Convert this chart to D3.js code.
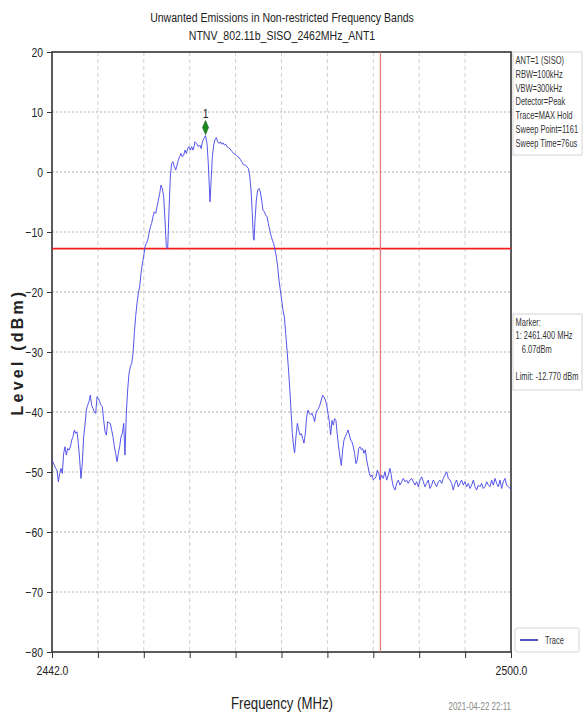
<!DOCTYPE html>
<html>
<head>
<meta charset="utf-8">
<script src="https://cdn.jsdelivr.net/npm/d3@7"></script>
<style>
  body { margin: 0; background: #fff; }
  svg { display: block; }
  text { font-family: "Liberation Sans", Arial, sans-serif; }
</style>
</head>
<body>
<div id="chart"></div>
<script>
// ---------------- data ----------------
var titleLines = ["Unwanted Emissions in Non-restricted Frequency Bands", "NTNV_802.11b_SISO_2462MHz_ANT1"];
var yTicks = [20, 10, 0, -10, -20, -30, -40, -50, -60, -70, -80];
var xTicks = [2442.0, 2447.8, 2453.6, 2459.4, 2465.2, 2471.0, 2476.8, 2482.6, 2488.4, 2494.2, 2500.0];
var xTickLabels = ["2442.0", "2500.0"];
var limitDbm = -12.77;
var bandEdgeMHz = 2483.5;
var markerMHz = 2461.4, markerDbm = 6.07;

var infoLines = ["ANT=1 (SISO)", "RBW=100kHz", "VBW=300kHz", "Detector=Peak", "Trace=MAX Hold", "Sweep Point=1161", "Sweep Time=76us"];
var markerLines = ["Marker:", "1: 2461.400 MHz", "   6.07dBm", "", "Limit: -12.770 dBm"];
var timeStamp = "2021-04-22 22:11";

// trace [MHz, dBm]
var leftSkirt = [
  [2442.00,-48.0],[2442.29,-48.85],[2442.46,-49.41],[2442.63,-49.68],[2442.80,-51.63],[2442.97,-50.24],
  [2443.14,-49.41],[2443.31,-50.24],[2443.47,-46.91],[2443.64,-45.79],[2443.81,-47.18],[2443.98,-46.07],
  [2444.15,-46.35],[2444.32,-45.79],[2444.49,-44.68],[2444.65,-44.13],[2444.82,-43.02],[2444.99,-43.57],
  [2445.16,-43.29],[2445.33,-45.24],[2445.50,-48.02],[2445.66,-51.07],[2445.83,-48.57],[2446.00,-44.13],
  [2446.17,-42.19],[2446.34,-39.68],[2446.51,-38.85],[2446.68,-38.29],[2446.84,-37.18],[2447.01,-38.85],
  [2447.18,-39.41],[2447.35,-39.96],[2447.52,-40.24],[2447.69,-37.46],[2447.86,-37.74],[2448.02,-38.29],
  [2448.19,-38.85],[2448.36,-39.13],[2448.53,-41.35],[2448.70,-43.29],[2448.87,-43.85],[2449.03,-41.63],
  [2449.20,-41.79],[2449.37,-41.90],[2449.54,-43.02],[2449.71,-44.13],[2449.88,-45.79],[2450.05,-46.91],
  [2450.21,-48.29],[2450.38,-46.91],[2450.55,-45.79],[2450.72,-44.13],[2450.89,-43.57],[2451.06,-41.90],
  [2451.22,-47.18],[2451.39,-40.24],[2451.56,-36.35],[2451.73,-33.57],[2451.90,-32.46],[2452.07,-31.91],
  [2452.24,-30.24],[2452.40,-26.91],[2452.57,-24.13],[2452.74,-21.91],[2452.91,-20.24],[2453.08,-19.13],
  [2453.25,-16.91],[2453.42,-15.24],[2453.58,-14.13],[2453.75,-12.46],[2453.92,-11.91],[2454.09,-11.35],
  [2454.26,-10.24],[2454.43,-9.13],[2454.59,-8.57],[2454.76,-7.46],[2454.93,-6.63],[2455.10,-6.91],
  [2455.27,-5.79],[2455.44,-4.68],[2455.61,-3.57],[2455.77,-2.18],[2455.94,-2.74],[2456.11,-4.13],
  [2456.28,-8.02],[2456.45,-12.46],[2456.62,-12.74],[2456.79,-6.35]
];
var mainLobe = [
  [2456.95,-0.80],[2457.12,1.43],[2457.29,1.71],[2457.46,0.87],[2457.63,0.32],[2457.80,1.15],
  [2457.96,1.98],[2458.13,2.54],[2458.30,3.09],[2458.47,2.54],[2458.64,2.82],[2458.81,3.65],
  [2458.98,3.09],[2459.14,3.93],[2459.31,4.21],[2459.48,3.65],[2459.65,4.21],[2459.82,3.65],
  [2459.99,4.48],[2460.07,5.04],[2460.28,4.76],[2460.49,4.21],[2460.70,4.48],[2460.85,3.90],
  [2461.00,5.00],[2461.20,5.60],[2461.40,6.07],[2461.59,4.76],[2461.75,1.43],[2461.88,-2.43],
  [2461.97,-4.98],[2462.09,-1.87],[2462.26,2.54],[2462.43,4.48],[2462.60,5.43],[2462.77,5.76],
  [2462.93,5.04],[2463.10,4.76],[2463.27,5.04],[2463.44,4.65],[2463.61,4.87],[2463.78,4.48],
  [2463.95,4.65],[2464.11,4.21],[2464.28,4.04],[2464.45,3.93],[2464.62,3.65],[2464.79,3.37],
  [2464.96,3.09],[2465.12,2.98],[2465.29,2.82],[2465.46,2.54],[2465.63,2.43],[2465.80,2.09],
  [2465.97,1.71],[2466.14,1.32],[2466.30,1.15],[2466.47,1.15],[2466.64,0.87],[2466.81,0.59],
  [2466.98,-0.52]
];
var rightSkirt = [
  [2467.15,-3.02],[2467.31,-6.91],[2467.44,-10.82],[2467.53,-11.37],[2467.65,-8.02],[2467.82,-4.68],
  [2467.99,-3.02],[2468.16,-2.74],[2468.33,-3.30],[2468.49,-4.68],[2468.66,-6.35],[2468.83,-6.63],
  [2469.00,-7.18],[2469.17,-7.46],[2469.34,-8.57],[2469.51,-9.68],[2469.67,-10.52],[2469.84,-11.35],
  [2470.01,-11.91],[2470.18,-13.02],[2470.35,-14.13],[2470.52,-15.79],[2470.68,-18.02],[2470.85,-19.68],
  [2471.02,-21.35],[2471.19,-23.02],[2471.36,-24.13],[2471.53,-26.91],[2471.70,-29.68],[2471.86,-32.46],
  [2472.03,-35.79],[2472.20,-39.68],[2472.37,-43.57],[2472.54,-45.9],[2472.66,-46.8],[2472.83,-44.1],
  [2473.00,-41.9],[2473.17,-43.0],[2473.33,-43.8],[2473.50,-43.6],[2473.67,-44.4],[2473.84,-45.2],
  [2474.01,-43.6],[2474.18,-40.8],[2474.34,-39.7],[2474.51,-40.2],[2474.68,-40.5],[2474.85,-40.2],
  [2475.02,-40.8],[2475.19,-41.6],[2475.36,-40.2],[2475.52,-39.7],[2475.69,-39.4],[2475.86,-38.8],
  [2476.03,-38.0],[2476.20,-37.2],[2476.37,-37.5],[2476.54,-38.0],[2476.70,-38.8],[2476.87,-40.2],
  [2477.04,-41.6],[2477.21,-43.8],[2477.38,-41.4],[2477.55,-42.2],[2477.71,-41.1],[2477.88,-41.4],
  [2478.05,-43.8],[2478.22,-45.8],[2478.39,-47.5],[2478.56,-48.9],[2478.73,-46.3],[2478.89,-44.7],
  [2479.06,-44.1],[2479.23,-43.6],[2479.40,-43.0],[2479.57,-43.8],[2479.74,-44.7],[2479.91,-45.0],
  [2480.07,-45.8],[2480.24,-46.9],[2480.41,-48.6],[2480.58,-48.0],[2480.75,-46.1],[2480.92,-45.8],
  [2481.09,-46.3],[2481.25,-46.1],[2481.42,-46.9],[2481.59,-46.3],[2481.76,-48.0],[2481.93,-49.1],
  [2482.10,-50.2],[2482.26,-50.8],[2482.43,-50.5],[2482.60,-51.3],[2482.77,-51.1],[2482.94,-50.8],
  [2483.11,-49.7],[2483.28,-50.2],[2483.44,-51.3]
];
var noiseFloor = [
  [2483.65,-50.51],[2483.86,-51.07],[2484.08,-49.96],[2484.29,-51.35],[2484.50,-50.51],[2484.71,-49.40],
  [2484.83,-50.24],[2484.96,-51.35],[2485.13,-52.46],[2485.34,-53.01],[2485.55,-51.90],[2485.76,-51.35],
  [2485.97,-52.18],[2486.18,-51.62],[2486.39,-51.07],[2486.60,-51.62],[2486.81,-51.35],[2487.02,-51.90],
  [2487.23,-51.35],[2487.44,-51.07],[2487.66,-51.62],[2487.87,-52.18],[2488.08,-51.62],[2488.29,-52.46],
  [2488.50,-51.35],[2488.71,-50.79],[2488.92,-51.62],[2489.13,-52.46],[2489.34,-51.90],[2489.55,-51.35],
  [2489.76,-52.74],[2489.97,-52.18],[2490.18,-51.35],[2490.39,-51.90],[2490.60,-52.46],[2490.81,-51.62],
  [2491.03,-51.35],[2491.24,-51.90],[2491.45,-51.07],[2491.66,-50.51],[2491.87,-49.96],[2492.08,-51.07],
  [2492.29,-51.35],[2492.50,-51.90],[2492.71,-53.01],[2492.92,-51.90],[2493.13,-51.35],[2493.34,-52.46],
  [2493.55,-51.90],[2493.76,-51.35],[2493.97,-52.18],[2494.18,-51.62],[2494.40,-52.46],[2494.61,-51.90],
  [2494.82,-52.74],[2495.03,-52.18],[2495.24,-51.35],[2495.45,-52.46],[2495.66,-53.01],[2495.87,-52.18],
  [2496.08,-52.46],[2496.29,-51.90],[2496.50,-52.74],[2496.71,-52.46],[2496.92,-51.62],[2497.13,-52.18],
  [2497.34,-52.46],[2497.55,-51.35],[2497.77,-52.18],[2497.98,-51.07],[2498.19,-51.90],[2498.40,-52.46],
  [2498.61,-51.35],[2498.82,-52.74],[2499.03,-51.62],[2499.24,-51.07],[2499.45,-52.18],[2499.66,-52.46],
  [2499.87,-52.74],[2500.00,-52.50]
];

// ---------------- layout ----------------
var W = 583, H = 715;
var margin = {top: 52, right: 72, bottom: 63, left: 52},
    width = W - margin.left - margin.right,
    height = H - margin.top - margin.bottom;
var squeeze = 0.8;   // no narrow font installed, so squeeze Liberation Sans

var root = d3.select("#chart").append("svg")
    .attr("width", W)
    .attr("height", H);

var svg = root.append("g")
    .attr("transform", "translate(" + margin.left + "," + margin.top + ")");

var x = d3.scaleLinear().domain([2442, 2500]).range([0, width]);
var y = d3.scaleLinear().domain([-80, 20]).range([height, 0]);

// narrow text helper
function narrow(parent, tx, ty, txt, size, anchor, fill, sq) {
  return parent.append("text")
    .attr("transform", "translate(" + tx + "," + ty + ") scale(" + (sq || squeeze) + ",1)")
    .attr("text-anchor", anchor || "start")
    .attr("font-size", size + "px")
    .attr("fill", fill || "#222")
    .attr("xml:space", "preserve")
    .style("white-space", "pre")
    .text(txt);
}

// title
titleLines.forEach(function(t, i) {
  narrow(root, 282, 22 + i * 18, t, 13.5, "middle", "#222", 0.78);
});

// grid
svg.append("g").selectAll("line")
  .data(yTicks.slice(1, -1))
  .enter().append("line")
    .attr("x1", 0).attr("x2", width)
    .attr("y1", function(d) { return y(d); })
    .attr("y2", function(d) { return y(d); })
    .attr("stroke", "#9a9a9a")
    .attr("stroke-width", 0.8)
    .attr("stroke-dasharray", "2,2");

svg.append("g").selectAll("line")
  .data(xTicks.slice(1, -1))
  .enter().append("line")
    .attr("y1", 0).attr("y2", height)
    .attr("x1", function(d) { return x(d); })
    .attr("x2", function(d) { return x(d); })
    .attr("stroke", "#c4c4c4")
    .attr("stroke-width", 0.8)
    .attr("stroke-dasharray", "4,3");

// axes
var yAxis = svg.append("g")
  .call(d3.axisLeft(y).tickValues(yTicks).tickSize(5).tickPadding(3).tickFormat(d3.format("d")));
yAxis.select(".domain").remove();
yAxis.selectAll("line").attr("stroke", "#333");
yAxis.selectAll("text")
  .attr("font-size", "13px").attr("fill", "#222")
  .attr("x", -9 / squeeze)
  .attr("transform", "scale(" + squeeze + ",1)");

var xAxis = svg.append("g")
  .attr("transform", "translate(0," + height + ")")
  .call(d3.axisBottom(x).tickValues(xTicks).tickSize(6).tickPadding(8)
    .tickFormat(function(d, i) {
      if (i === 0) return xTickLabels[0];
      if (i === xTicks.length - 1) return xTickLabels[1];
      return "";
    }));
xAxis.select(".domain").remove();
xAxis.selectAll("line").attr("stroke", "#333");
xAxis.selectAll("text")
  .attr("font-size", "13px").attr("fill", "#222")
  .attr("transform", "scale(" + squeeze + ",1)");

// frame
svg.append("rect")
  .attr("x", 0).attr("y", 0)
  .attr("width", width).attr("height", height)
  .attr("fill", "none")
  .attr("stroke", "#333")
  .attr("stroke-width", 1.6);

// limit + band edge
svg.append("line")
  .attr("x1", 0).attr("x2", width)
  .attr("y1", y(limitDbm)).attr("y2", y(limitDbm))
  .attr("stroke", "#f21d1d")
  .attr("stroke-width", 1.6);

svg.append("line")
  .attr("x1", x(bandEdgeMHz)).attr("x2", x(bandEdgeMHz))
  .attr("y1", 0).attr("y2", height)
  .attr("stroke", "#e47b7b")
  .attr("stroke-width", 1.3);

// trace
var trace = leftSkirt.concat(mainLobe, rightSkirt, noiseFloor);
var line = d3.line()
  .x(function(d) { return x(d[0]); })
  .y(function(d) { return y(d[1]); });

svg.append("path")
  .datum(trace)
  .attr("d", line)
  .attr("fill", "none")
  .attr("stroke", "#4343e8")
  .attr("stroke-width", 0.9)
  .attr("stroke-linejoin", "round");

// marker diamond
var mx = x(markerMHz), my = y(markerDbm);
svg.append("path")
  .attr("d", "M" + mx + "," + (my - 1) + " L" + (mx + 3) + "," + (my - 8) + " L" + mx + "," + (my - 15) + " L" + (mx - 3) + "," + (my - 8) + "Z")
  .attr("fill", "#1f8a1f")
  .attr("stroke", "#0d5e0d")
  .attr("stroke-width", 0.6);
narrow(svg, mx, my - 18, "1", 13, "middle");

// labels
root.append("text")
  .attr("transform", "translate(23," + (margin.top + height / 2) + ") rotate(-90)")
  .attr("text-anchor", "middle")
  .attr("font-family", "Liberation Sans, Arial, sans-serif")
  .attr("font-weight", "bold")
  .attr("font-size", "16px")
  .attr("letter-spacing", "3.2px")
  .attr("fill", "#222")
  .text("Level (dBm)");

narrow(root, 282, 709, "Frequency (MHz)", 16.5, "middle");
narrow(root, 511, 710, timeStamp, 10, "end", "#8a8a8a");

// side boxes
var bx = margin.left + width + 2;
function sideBox(lines, top, step, h) {
  var g = root.append("g");
  g.append("rect")
    .attr("x", bx).attr("y", top)
    .attr("width", 69).attr("height", h)
    .attr("fill", "#fff")
    .attr("stroke", "#d4d4d4")
    .attr("stroke-width", 1);
  lines.forEach(function(t, i) {
    narrow(g, bx + 2.5, top + 12 + i * step, t, 10, "start", "#333", 0.75);
  });
}
sideBox(infoLines, 52, 13.8, 103);
sideBox(markerLines, 314, 13.4, 76);

// legend
var lg = root.append("g");
lg.append("rect")
  .attr("x", bx + 2).attr("y", 628)
  .attr("width", 64).attr("height", 24)
  .attr("rx", 2)
  .attr("fill", "#fff")
  .attr("stroke", "#d4d4d4");
lg.append("line")
  .attr("x1", bx + 7).attr("x2", bx + 25)
  .attr("y1", 640).attr("y2", 640)
  .attr("stroke", "#1c1ca6")
  .attr("stroke-width", 1.5);
narrow(lg, bx + 32, 644, "Trace", 10, "start", "#333", 0.75);
</script>
</body>
</html>
